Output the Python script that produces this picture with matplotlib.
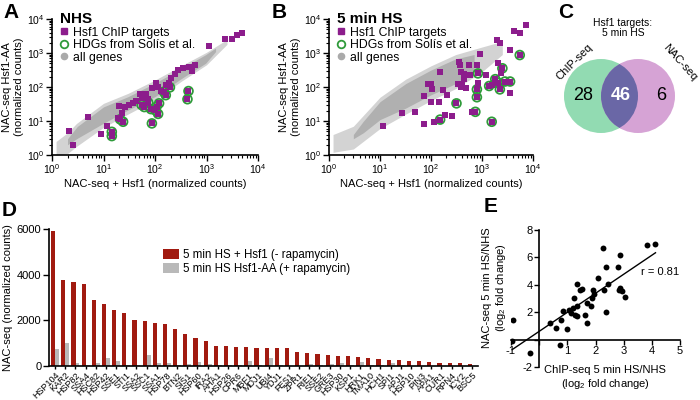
import numpy as np
import matplotlib
matplotlib.use("Agg")
import matplotlib.pyplot as plt
from matplotlib.lines import Line2D
from matplotlib.patches import Circle

plt.rcParams["font.family"] = ["Liberation Sans", "DejaVu Sans"]
plt.rcParams["mathtext.fontset"] = "custom"
plt.rcParams["mathtext.rm"] = "Liberation Sans"
plt.rcParams["axes.linewidth"] = 1.2
plt.rcParams["xtick.major.width"] = 1.0
plt.rcParams["ytick.major.width"] = 1.0

PURPLE = "#8c1d8c"
GREEN = "#2f9a3a"
GRAY = "#aaaaaa"
RED = "#a11a10"
LGRAY = "#b9b9b9"

# ---- panel A (NHS) ----
a_chip_x = [2.6, 2.1, 5.0, 8.9, 11.7, 20.4, 19.5, 22.8, 26.5, 30.9, 37.4, 43.6, 50.5, 56.3,
            65.4, 73.9, 85.9, 103, 113, 131, 162, 189, 206, 240, 279, 345, 452, 530, 594,
            1120, 2300, 3150, 3880, 4910]
a_chip_y = [2.0, 5.2, 12.9, 4.2, 6.9, 27.8, 12.0, 17.0, 25.5, 29.7, 34.9, 40.0, 61.4, 46.9,
            63.0, 43.6, 92.4, 129, 98.6, 78.7, 113, 130, 182, 245, 307, 360, 400, 286, 449,
            1560, 2630, 2630, 3460, 3870]
a_hdg_x = [14.5, 14.5, 21, 24, 55, 62, 74, 83, 87, 100, 107, 120, 148, 162, 195, 447, 427, 115]
a_hdg_y = [4.8, 3.6, 11.2, 9.5, 29.5, 25.7, 34.7, 22.4, 8.5, 20.9, 26.3, 33.1, 72.4, 57.5,
           97.7, 75.9, 43.7, 16.2]
# outline of the 'all genes' cloud (dense core and sparse fringe)
a_core_x = [2, 3.1, 10, 30, 100, 330, 960, 1500]
a_core_lo = [2, 3.1, 8.6, 21, 52, 180, 500, 1100]
a_core_hi = [3, 6.9, 26, 52, 130, 357, 890, 1400]
a_frin_x = [1.2, 2, 3, 10, 30, 100, 330, 1000, 2500]
a_frin_lo = [1.0, 1.1, 1.8, 6.5, 16, 42, 150, 450, 1800]
a_frin_hi = [2.5, 4.5, 8.5, 33, 65, 160, 430, 1050, 2500]

# ---- panel B (5 min HS) ----
b_chip_x = [11.7, 27.5, 48, 72, 72, 100, 100, 115, 141, 151, 170, 191, 209, 257, 331, 363,
            380, 447, 490, 89, 105, 7400, 4270, 5500, 1950, 2240, 3550, 912, 347, 550, 794,
            2090, 380, 589, 1175, 2340, 437, 851, 1550, 3550, 631, 398]
b_chip_y = [6.9, 17, 19, 56, 8.1, 37, 126, 9.3, 37, 282, 81, 14.8, 59, 13.8, 120, 457,
            102, 234, 95, 126, 87, 6600, 4570, 3800, 2400, 2000, 1230, 933, 550, 447, 447,
            513, 282, 224, 224, 263, 170, 129, 115, 65, 18.6, 115]
b_hdg_x = [151, 316, 5500, 2510, 832, 1820, 2040, 1380, 2240, 2820, 3550, 794, 794, 741, 1550]
b_hdg_y = [11, 33, 870, 355, 251, 170, 135, 107, 85, 145, 145, 85, 50, 18.6, 9.5]
b_core_x = [3, 4.7, 10, 32, 100, 306, 700]
b_core_lo = [3, 4.5, 11, 24, 59, 126, 300]
b_core_hi = [4, 9.8, 37, 126, 316, 676, 900]
b_frin_x = [1.2, 3, 10, 32, 100, 306, 1000, 2500]
b_frin_lo = [1.2, 1.5, 6, 16, 40, 90, 280, 900]
b_frin_hi = [4, 7, 50, 170, 420, 900, 1500, 2200]

# ---- panel C (venn) ----
venn_counts = [28, 46, 6]

# ---- panel D (bars) ----
genes = ["HSP104", "KAR2", "HSP82", "SSA4", "HSC82", "HSP42", "SSE1", "STI1", "SSA2", "SSC1",
         "SSA1", "HSP78", "BTN2", "SIS1", "HSP60", "IRA2", "AHA1", "HSP26", "CPR6", "MBF1",
         "MDJ1", "UBI4", "YDJ1", "FES1", "ZPR1", "RIE1", "SSE2", "GRE3", "HSP30", "KSP1",
         "HRK1", "TMA10", "HCH1", "SPI1", "APJ1", "HSP10", "PIN3", "APA1", "CUR1", "RPN4",
         "ICY2", "BSC5"]
hsf1_counts = [5900, 3780, 3700, 3590, 2900, 2720, 2440, 2320, 2020, 1970,
               1880, 1830, 1630, 1390, 1220, 1100, 870, 860, 840, 820,
               800, 800, 780, 770, 600, 560, 540, 470, 440, 430,
               380, 350, 310, 265, 255, 230, 215, 195, 150, 130,
               125, 75]
hsf1aa_counts = [750, 1000, 120, 30, 120, 330, 220, 40, 60, 480,
                 120, 150, 30, 80, 170, 90, 40, 60, 30, 230,
                 40, 360, 30, 20, 20, 80, 60, 90, 120, 30,
                 160, 40, 30, 110, 30, 20, 20, 20, 10, 10,
                 10, 10]

# ---- panel E (fold change) ----
chip_lfc = [-0.93, -0.96, -0.31, 0.38, 0.6, 0.74, 0.77, 0.83, 1.0, 1.07, 1.12, 1.19, 1.25,
            1.27, 1.33, 1.36, 1.36, 1.45, 1.51, 1.63, 1.69, 1.69, 1.85, 1.87, 1.9, 1.93,
            2.1, 2.26, 2.29, 2.36, 2.38, 2.46, 2.79, 2.82, 2.86, 2.86, 2.94, 3.04, 3.83, 4.13]
nac_lfc = [1.43, -0.12, -1.0, 1.21, 0.82, -0.41, 1.43, 2.06, 0.8, 2.15, 1.94, 2.32, 3.07,
           1.82, 1.74, 2.47, 4.09, 3.6, 3.68, 1.82, 1.21, 2.64, 2.47, 3.07, 3.6, 3.32,
           4.48, 6.66, 3.6, 5.3, 1.99, 4.09, 5.3, 3.6, 6.15, 3.8, 3.56, 3.12, 6.88, 6.95]
r_value = 0.81

fig = plt.figure(figsize=(7, 4), dpi=100)


def px(x0, y0, x1, y1):
    # pixel box (left, top, right, bottom) -> figure fraction rect
    return [x0 / 700, 1 - y1 / 400, (x1 - x0) / 700, (y1 - y0) / 400]


def scatter_panel(rect, title, chip_x, chip_y, hdg_x, hdg_y, fx, flo, fhi, cx, clo, chi):
    ax = fig.add_axes(rect)
    ax.set_xscale("log")
    ax.set_yscale("log")
    ax.fill_between(fx, flo, fhi, color="#d3d3d3", lw=0, zorder=1)
    ax.fill_between(cx, clo, chi, color="#b0b0b0", lw=0, zorder=1)
    ax.scatter(hdg_x, hdg_y, s=40, facecolors="none", edgecolors=GREEN, linewidths=1.3, zorder=3)
    ax.scatter(chip_x, chip_y, s=13, marker="s", color=PURPLE, lw=0, zorder=4)
    ax.scatter(hdg_x, hdg_y, s=13, marker="s", color=PURPLE, lw=0, zorder=4)
    ax.set_xlim(1, 1e4)
    ax.set_ylim(1, 1e4)
    for s in ["top", "right"]:
        ax.spines[s].set_visible(False)
    ax.tick_params(which="major", length=4, labelsize=7.5, direction="out", pad=1.5)
    ax.tick_params(which="minor", length=2, width=0.8)
    ax.set_xlabel("NAC-seq + Hsf1 (normalized counts)", fontsize=8, labelpad=2)
    ax.set_ylabel("NAC-seq Hsf1-AA\n(normalized counts)", fontsize=8, labelpad=2)
    handles = [Line2D([], [], marker="s", ls="", color=PURPLE, ms=5),
               Line2D([], [], marker="o", ls="", mfc="none", mec=GREEN, mew=1.3, ms=5.5),
               Line2D([], [], marker="o", ls="", color=GRAY, ms=4.5)]
    leg = ax.legend(handles, ["Hsf1 ChIP targets", "HDGs from Solís et al.", "all genes"],
                    loc="upper left", bbox_to_anchor=(0.025, 1.07), frameon=False, fontsize=8.8,
                    title=title, title_fontsize=11, alignment="left", handlelength=0.8,
                    handletextpad=0.3, labelspacing=0.05, borderpad=0.2, borderaxespad=0)
    leg.get_title().set_fontweight("bold")
    return ax


scatter_panel(px(52, 19, 258, 155), "NHS", a_chip_x, a_chip_y, a_hdg_x, a_hdg_y,
              a_frin_x, a_frin_lo, a_frin_hi, a_core_x, a_core_lo, a_core_hi)
scatter_panel(px(329, 19, 533, 155), "5 min HS", b_chip_x, b_chip_y, b_hdg_x, b_hdg_y,
              b_frin_x, b_frin_lo, b_frin_hi, b_core_x, b_core_lo, b_core_hi)

# ---- C venn ----
axc = fig.add_axes(px(550, 0, 700, 160))
axc.set_xlim(550, 700)
axc.set_ylim(160, 0)
axc.axis("off")
axc.add_patch(Circle((601, 96), 37, color="#92dbb2", lw=0))
axc.add_patch(Circle((638, 96), 37, color="#d6a3d5", lw=0))
inter = Circle((601, 96), 37, color="#6a67a6", lw=0)
axc.add_patch(inter)
inter.set_clip_path(Circle((638, 96), 37, transform=axc.transData))
axc.text(623, 28, "Hsf1 targets:\n5 min HS", ha="center", va="center", fontsize=7.5, linespacing=1.1)
axc.text(574, 62, "ChIP-seq", ha="center", va="center", fontsize=8, rotation=45)
axc.text(680, 62, "NAC-seq", ha="center", va="center", fontsize=8, rotation=-48)
axc.text(583, 96, str(venn_counts[0]), ha="center", va="center", fontsize=13)
axc.text(621, 96, str(venn_counts[1]), ha="center", va="center", fontsize=13,
         fontweight="bold", color="white")
axc.text(661, 96, str(venn_counts[2]), ha="center", va="center", fontsize=13)

# ---- D bars ----
axd = fig.add_axes(px(49, 229, 478, 366))
pos = np.arange(len(genes))
axd.bar(pos - 0.19, hsf1_counts, width=0.42, color=RED, lw=0,
        label="5 min HS + Hsf1 (- rapamycin)")
axd.bar(pos + 0.21, hsf1aa_counts, width=0.38, color=LGRAY, lw=0,
        label="5 min HS Hsf1-AA (+ rapamycin)")
axd.set_xlim(-0.6, len(genes) - 0.4)
axd.set_ylim(0, 6000)
axd.set_yticks([0, 2000, 4000, 6000])
axd.set_xticks(pos)
axd.set_xticklabels(genes, rotation=45, ha="right", rotation_mode="anchor", fontsize=6.5)
axd.tick_params(axis="x", length=2.5, pad=1)
axd.tick_params(axis="y", length=4, labelsize=8, pad=1.5)
for s in ["top", "right"]:
    axd.spines[s].set_visible(False)
axd.set_ylabel("NAC-seq (normalized counts)", fontsize=8, labelpad=3)
axd.legend(loc="upper left", bbox_to_anchor=(163 / 700, 1 - 249 / 400),
           bbox_transform=fig.transFigure, frameon=False, fontsize=8.3,
           handlelength=1.4, handleheight=0.9, handletextpad=0.3, labelspacing=0.15,
           borderpad=0, borderaxespad=0)

# ---- E correlation ----
axe = fig.add_axes(px(511, 230, 680, 367))
axe.scatter(chip_lfc, nac_lfc, s=18, color="black", lw=0, zorder=3)
slope, icpt = np.polyfit(chip_lfc, nac_lfc, 1)
fx = np.array([min(chip_lfc), max(chip_lfc)])
axe.plot(fx, slope * fx + icpt, color="black", lw=1.0)
axe.set_xlim(-1, 5)
axe.set_ylim(-2, 8)
axe.spines["left"].set_position(("data", 0))
axe.spines["bottom"].set_position(("data", 0))
for s in ["top", "right"]:
    axe.spines[s].set_visible(False)
axe.set_xticks([-1, 0, 1, 2, 3, 4, 5])
axe.set_xticklabels(["-1", "", "1", "2", "3", "4", "5"])
axe.set_yticks([-2, 0, 2, 4, 6, 8])
axe.set_yticklabels(["-2", "", "2", "4", "6", "8"])
axe.tick_params(length=3.5, labelsize=8, pad=1)
axe.text(3.6, 4.9, f"r = {r_value:.2f}", fontsize=8, va="center")
fig.text(605 / 700, 1 - 378 / 400, "ChIP-seq 5 min HS/NHS\n(log$_2$ fold change)",
         ha="center", va="center", fontsize=8, linespacing=1.2)
fig.text(495 / 700, 1 - 288 / 400, "NAC-seq 5 min HS/NHS\n(log$_2$ fold change)",
         ha="center", va="center", fontsize=8, rotation=90, linespacing=1.2)

# panel letters
for lab, x, y in [("A", 3, 12), ("B", 272, 12), ("C", 558, 12), ("D", 2, 210), ("E", 484, 207)]:
    fig.text(x / 700, 1 - y / 400, lab, fontsize=15, fontweight="bold", va="center")

fig.savefig("out.png", dpi=100)
